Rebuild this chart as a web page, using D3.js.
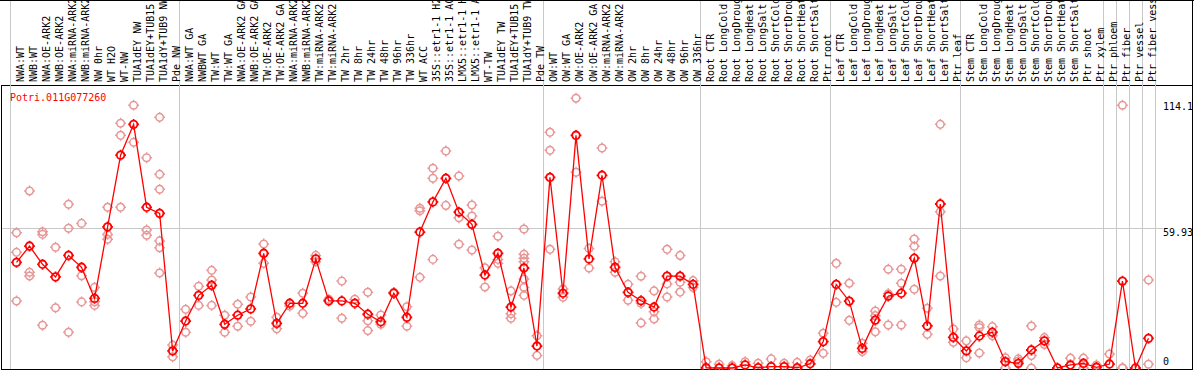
<!DOCTYPE html>
<html>
<head>
<meta charset="utf-8">
<script src="https://d3js.org/d3.v7.min.js"></script>
<style>
  body { margin: 0; background: #fff; }
  text { font-family: "DejaVu Sans Mono", monospace; font-size: 10px; }
</style>
</head>
<body>
<svg id="chart" width="1194" height="370"></svg>
<script>
// column labels (one per sample)
const labels = [
  "NWA:WT", "NWB:WT", "NWA:OE-ARK2", "NWB:OE-ARK2", "NWA:miRNA-ARK2", "NWB:miRNA-ARK2",
  "NW 0hr", "WT H2O", "WT-NW", "TUA1dEY NW", "TUA1dEY+TUB15", "TUA1dY+TUB9 NW", "Pde NW",
  "NWA:WT GA", "NWBWT GA", "TW:WT", "TW:WT GA", "NWA:OE-ARK2 GA", "NWB:OE-ARK2 GA",
  "TW:OE-ARK2", "TW:OE-ARK2 GA", "NWA:miRNA-ARK2", "NWB:miRNA-ARK2", "TW:miRNA-ARK2", "TW:miRNA-ARK2",
  "TW 2hr", "TW 8hr", "TW 24hr", "TW 48hr", "TW 96hr", "TW 336hr", "WT ACC",
  "35S::etr1-1 H2O", "35S::etr1-1 ACC", "LMX5::etr1-1 H2O", "LMX5::etr1-1 ACC",
  "WT-TW", "TUA1dEY TW", "TUA1dEY+TUB15", "TUA1dY+TUB9 TW", "Pde TW",
  "OW:WT", "OW:WT GA", "OW:OE-ARK2", "OW:OE-ARK2 GA", "OW:miRNA-ARK2", "OW:miRNA-ARK2",
  "OW 2hr", "OW 8hr", "OW 24hr", "OW 48hr", "OW 96hr", "OW 336hr",
  "Root CTR", "Root LongCold", "Root LongDrought", "Root LongHeat", "Root LongSalt",
  "Root ShortCold", "Root ShortDrought", "Root ShortHeat", "Root ShortSalt", "Ptr root",
  "Leaf CTR", "Leaf LongCold", "Leaf LongDrought", "Leaf LongHeat", "Leaf LongSalt",
  "Leaf ShortCold", "Leaf ShortDrought", "Leaf ShortHeat", "Leaf ShortSalt", "Ptr leaf",
  "Stem CTR", "Stem LongCold", "Stem LongDrought", "Stem LongHeat", "Stem LongSalt",
  "Stem ShortCold", "Stem ShortDrought", "Stem ShortHeat", "Stem ShortSalt", "Ptr shoot",
  "Ptr xylem", "Ptr phloem", "Ptr fiber", "Ptr vessel", "Ptr fiber vessel"
];

// mean expression per column
const means = [
  45.2, 52.2, 44.4, 39.0, 48.2, 43.1, 29.8, 60.4, 91.1, 104.3, 68.8, 66.2, 7.3,
  20.1, 31.1, 35.4, 18.7, 22.6, 25.3, 49.1, 19.1, 27.7, 27.7, 46.7, 28.7, 28.7,
  27.7, 23.0, 19.8, 32.0, 21.7, 58.2, 71.1, 81.2, 66.7, 61.5, 39.8, 49.1, 26.1,
  42.8, 9.4,
  81.6, 32.0, 99.6, 46.7, 82.5, 43.1, 32.4, 28.8, 26.1, 39.3, 39.3, 35.8,
  0.1, 0, 0, 1.3, 0.1, 0.6, 0.6, 0.1, 1.8, 11.3,
  35.8, 28.6, 8.4, 20.5, 30.8, 32.0, 47.0, 18.0, 70.2, 13.1,
  7.3, 13.7, 15.3, 2.7, 2.0, 7.7, 11.6, 0, 1.3, 2.0, 0.3,
  1.7, 37.2, 0, 12.7
];

// individual replicates per column
const reps = [
  [57.9, 49.5, 28.7], [75.8, 41.0, 39.4], [58.3, 57.2, 18.3], [51.7, 25.8], [70.1, 59.8, 15.3],
  [61.9, 39.5, 28.3], [34.5, 28.4, 26.8], [68.8, 57.2, 55.1], [104.8, 99.6, 68.8], [112.5, 96.6],
  [90.0, 59.1, 56.8], [107.3, 82.9, 76.5, 54.4, 51.5, 40.7], [9.8, 4.8],
  [25.1, 15.3], [35.0, 26.8], [41.8, 37.7, 26.8], [22.6, 15.3], [27.3, 17.9], [30.4, 20.0],
  [53.1, 44.8], [21.7, 16.8], [26.5], [32.0, 23.4], [48.2, 45.5], [29.4], [37.2, 21.3],
  [29.4], [32.4, 20.2, 16.0], [22.7, 18.7], [32.4], [26.2, 17.9], [68.4, 67.3, 38.8],
  [85.5, 81.2, 46.5], [92.9, 69.6], [82.2, 64.3, 53.0], [69.8, 65.1, 50.5], [42.9, 34.7],
  [56.4, 46.5, 44.8], [33.0, 23.2, 21.3], [59.5, 48.7, 47.0, 45.5, 38.1, 34.5, 31.1], [13.8, 5.4],
  [100.9, 93.2, 50.8], [33.8, 30.3], [115.5, 83.8], [51.2, 42.8], [94.2, 71.4], [45.5, 41.0],
  [35.8, 29.0], [39.3, 27.7, 19.3], [33.0, 24.1, 21.0], [50.8, 36.0, 30.4], [48.2, 36.7, 32.5],
  [37.4, 34.5],
  [2.7], [1.6], [1.0], [2.7], [2.0], [3.9], [2.0], [2.4], [3.4], [14.9, 6.3],
  [44.8, 28.1], [36.3, 20.4], [10.6, 7.0], [24.4, 22.4, 15.5], [42.3, 31.8, 18.4],
  [42.3, 36.3, 18.4], [55.2, 52.1, 33.7], [25.6, 14.4], [104.3, 66.9, 39.4], [16.7, 11.0],
  [11.6, 4.4], [18.4, 17.3, 6.4], [17.7, 13.8], [4.4, 0], [3.9, 3.0], [18.0, 5.3, 0],
  [13.0, 10.1], [], [4.2], [4.2, 0], [1.3],
  [6.0], [112.5, 0, 0], [], [37.7, 1.6]
];

// columns where a group divider is drawn
const dividers = [0, 13, 41, 53, 63, 73, 84, 85, 86, 87, 88];
const yTicks = [0, 59.93, 114.1];
const title = "Potri.011G077260";

const svg = d3.select("#chart");
const W = 1194;
const plotTop = 85, plotBottom = 368;

const x = d3.scaleLinear().domain([0, labels.length]).range([10, 1155]);
const y = d3.scaleLinear().domain([0, 121.15]).range([plotBottom, plotTop]);
const cx = i => x(i + 0.5);

// frame
svg.append("line").attr("x1", 0).attr("x2", W).attr("y1", 0.5).attr("y2", 0.5).attr("stroke", "#000");
svg.append("line").attr("x1", W - 1.5).attr("x2", W - 1.5).attr("y1", 0).attr("y2", 370).attr("stroke", "#000");
svg.append("rect").attr("x", 1.5).attr("y", plotTop + 0.5).attr("width", W - 3).attr("height", 369 - plotTop)
   .attr("fill", "none").attr("stroke", "#000");

// grid
svg.selectAll("line.div").data(dividers).join("line")
   .attr("class", "div")
   .attr("x1", d => Math.round(x(d)) + 0.5).attr("x2", d => Math.round(x(d)) + 0.5)
   .attr("y1", 1).attr("y2", 369)
   .attr("stroke", "#c8c8c8");

svg.append("line")
   .attr("x1", 2).attr("x2", 1163)
   .attr("y1", Math.round(y(59.93)) + 0.5).attr("y2", Math.round(y(59.93)) + 0.5)
   .attr("stroke", "#c8c8c8");

// column labels (long ones run off the top edge, as in the original)
svg.selectAll("text.lab").data(labels).join("text")
   .attr("class", "lab")
   .attr("transform", (d, i) => `translate(${cx(i) + 4},82) rotate(-90)`)
   .attr("dy", "0.35em")
   .attr("fill", "#000")
   .text(d => d);

// right axis labels
svg.selectAll("text.tick").data(yTicks).join("text")
   .attr("class", "tick")
   .attr("x", 1163)
   .attr("y", d => Math.min(y(d) + 1, 358))
   .attr("dominant-baseline", "hanging")
   .attr("fill", "#000")
   .text(d => d);

svg.append("text").attr("x", 10).attr("y", 101).attr("fill", "#ff0000").text(title);

// marker: ring with small ticks
const marker = (px, py) => {
  const r = 3.8;
  return `M${px - r},${py}a${r},${r} 0 1,0 ${2 * r},0a${r},${r} 0 1,0 ${-2 * r},0` +
         `M${px},${py - r - 1.6}v1.6M${px},${py + r}v1.6M${px - r - 1.6},${py}h1.6M${px + r},${py}h1.6`;
};

const repPts = reps.flatMap((arr, i) => arr.map(v => [i, v]));
svg.selectAll("path.rep").data(repPts).join("path")
   .attr("class", "rep")
   .attr("d", d => marker(cx(d[0]), y(d[1])))
   .attr("fill", "none")
   .attr("stroke", "#e89696")
   .attr("stroke-width", 1.5);

const line = d3.line().x((d, i) => cx(i)).y(d => y(d));
svg.append("path").datum(means)
   .attr("d", line)
   .attr("fill", "none")
   .attr("stroke", "#ff0000")
   .attr("stroke-width", 1.3);

svg.selectAll("path.mean").data(means).join("path")
   .attr("class", "mean")
   .attr("d", (d, i) => marker(cx(i), y(d)))
   .attr("fill", "none")
   .attr("stroke", "#ff0000")
   .attr("stroke-width", 1.8);
</script>
</body>
</html>
